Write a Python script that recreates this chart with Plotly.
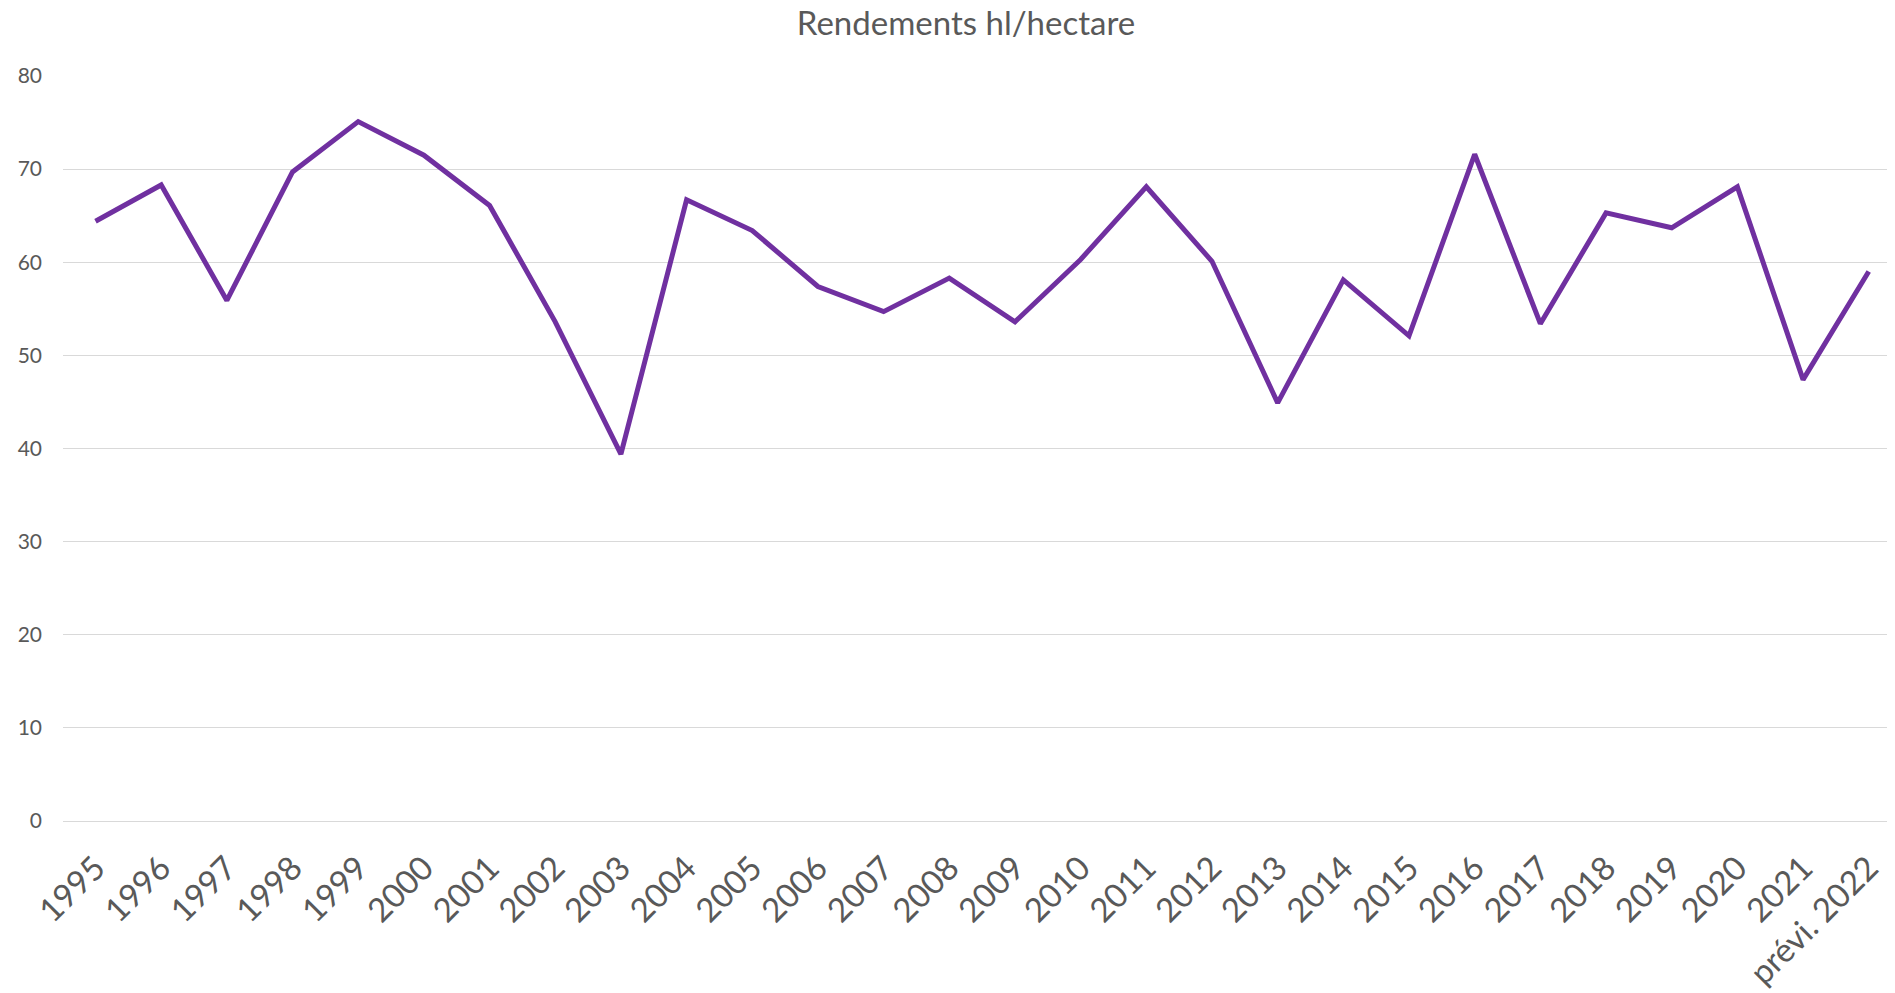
import plotly.graph_objects as go

categories = ["1995", "1996", "1997", "1998", "1999", "2000", "2001", "2002", "2003",
              "2004", "2005", "2006", "2007", "2008", "2009", "2010", "2011", "2012",
              "2013", "2014", "2015", "2016", "2017", "2018", "2019", "2020", "2021",
              "prévi. 2022"]
rendements = [64.4, 68.3, 55.9, 69.7, 75.1, 71.5, 66.1, 53.6, 39.4,
              66.7, 63.4, 57.4, 54.7, 58.3, 53.6, 60.3, 68.1, 60.1,
              44.9, 58.1, 52.1, 71.6, 53.4, 65.3, 63.7, 68.1, 47.4,
              59.0]
y_ticks = [0, 10, 20, 30, 40, 50, 60, 70, 80]

FONT = "Lato, 'Open Sans', sans-serif"
TXT = "#595959"

# The page body adds an 8px offset; the figure is sized to fill the rest.
W, H = 1887, 985

fig = go.Figure()
fig.add_trace(go.Scatter(
    x=list(range(len(categories))), y=rendements, mode="lines",
    line=dict(color="#7030A0", width=5),
    hoverinfo="y", showlegend=False,
))

fig.update_layout(
    width=W, height=H,
    margin=dict(l=55, r=0, t=68, b=171.5, pad=0, autoexpand=False),
    paper_bgcolor="white", plot_bgcolor="white",
    title=dict(text="Rendements hl/hectare", x=958 / W, xanchor="center",
               xref="container", y=1, yanchor="top", yref="container",
               pad=dict(t=4, b=0),
               font=dict(family=FONT, size=33, color=TXT)),
    xaxis=dict(
        tickmode="array", tickvals=list(range(len(categories))), ticktext=categories,
        range=[-0.495, 27.40], tickangle=-45, showgrid=False, zeroline=False,
        showline=False, ticks="", ticklabelstandoff=20, automargin=False,
        tickfont=dict(family=FONT, size=33, color=TXT),
    ),
    yaxis=dict(
        range=[0, 80], tickvals=y_ticks, showgrid=True, gridcolor="#D9D9D9",
        gridwidth=1.2, zeroline=True, zerolinecolor="#D9D9D9", zerolinewidth=1.2,
        showline=False, ticks="", ticklabelstandoff=20, automargin=False,
        tickfont=dict(family=FONT, size=21, color=TXT),
    ),
)

fig.write_html("out.html")
